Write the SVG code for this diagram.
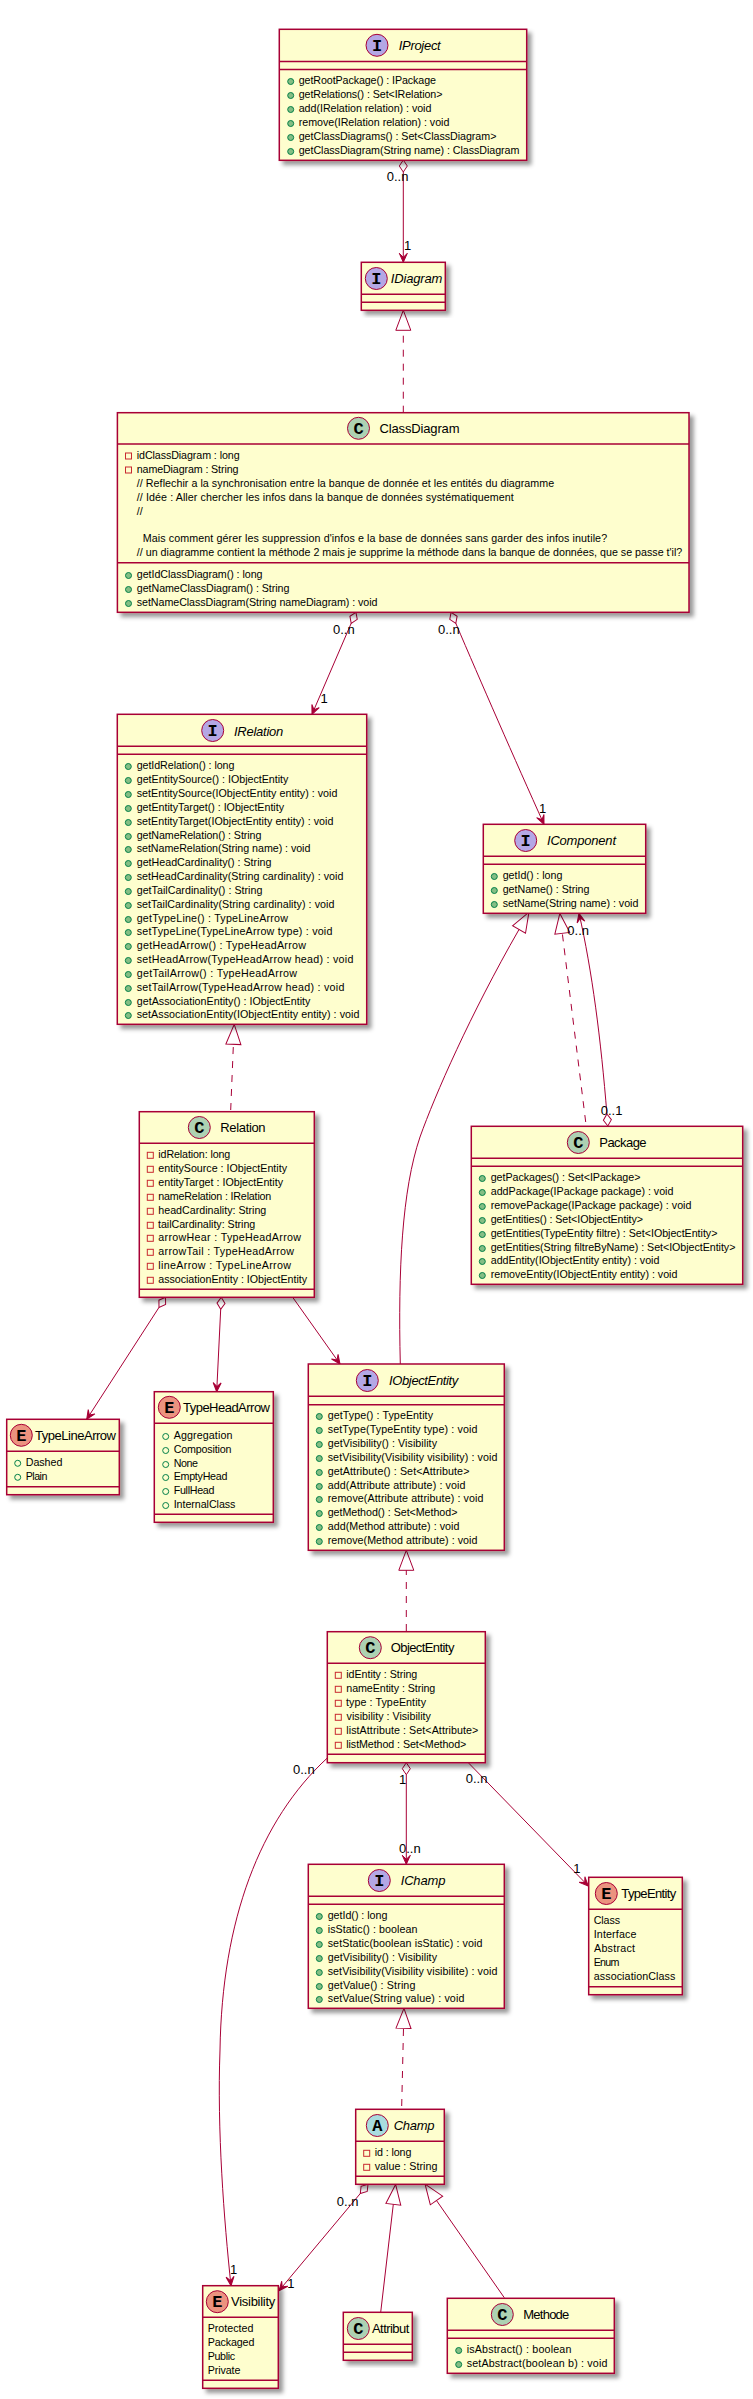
<svg xmlns="http://www.w3.org/2000/svg" width="753" height="2399" viewBox="0 0 753 2399">
<style>
text{font-family:"Liberation Sans",Arial,sans-serif;fill:#000}
.b{fill:#FEFECE;stroke:#A80036;stroke-width:1.5;filter:url(#sh)}
.s{stroke:#A80036;stroke-width:1.5;fill:none}
.m{font-size:10.7px}
.t{font-size:13px}
.i{font-size:13px;font-style:italic}
.l{font-size:13px}
.g{font-family:"Liberation Mono",monospace;font-weight:bold;font-size:17px;text-anchor:middle}
.c{stroke:#A80036;stroke-width:1;fill:#ADD1B2}
.ci{stroke:#A80036;stroke-width:1;fill:#B4A7E5}
.ce{stroke:#A80036;stroke-width:1;fill:#EB937F}
.ca{stroke:#A80036;stroke-width:1;fill:#A9DCDF}
.d{fill:#84BE84;stroke:#038048;stroke-width:1}
.e{fill:none;stroke:#038048;stroke-width:1}
.p{fill:none;stroke:#C82930;stroke-width:1}
.k{fill:none;stroke:#A80036;stroke-width:1}
.ag{marker-start:url(#dia);marker-end:url(#arr)}
.ar{marker-end:url(#arr)}
.re{marker-end:url(#tri)}
.da{stroke-dasharray:7,7}
</style>
<defs>
<filter id="sh" x="-10%" y="-10%" width="125%" height="125%">
<feGaussianBlur in="SourceAlpha" stdDeviation="2" result="b"/>
<feColorMatrix in="b" type="matrix" values="0 0 0 0 0 0 0 0 0 0 0 0 0 0 0 0 0 0 0.4 0" result="c"/>
<feOffset in="c" dx="4" dy="4" result="o"/>
<feMerge><feMergeNode in="o"/><feMergeNode in="SourceGraphic"/></feMerge>
</filter>
<marker id="arr" markerUnits="userSpaceOnUse" markerWidth="12" markerHeight="12" refX="0" refY="0" orient="auto" overflow="visible"><polygon points="0,0 -9,4 -5,0 -9,-4" fill="#A80036" stroke="#A80036" stroke-width="1"/></marker>
<marker id="dia" markerUnits="userSpaceOnUse" markerWidth="14" markerHeight="10" refX="0" refY="0" orient="auto" overflow="visible"><polygon points="0,0 -6,4 -12,0 -6,-4" fill="none" stroke="#A80036" stroke-width="1"/></marker>
<marker id="tri" markerUnits="userSpaceOnUse" markerWidth="22" markerHeight="16" refX="0" refY="0" orient="auto" overflow="visible"><polygon points="0,-7.5 20,0 0,7.5" fill="none" stroke="#A80036" stroke-width="1" stroke-dasharray="none"/></marker>
</defs>
<rect width="753" height="2399" fill="#fff"/>
<g id="connectors">
<path class="k ag" d="M403.3,172 L403.3,262.3"/>
<path class="k re da" d="M403.3,412.7 L403.3,330.3"/>
<path class="k ag" d="M351.2,623.3 L312,714.3"/>
<path class="k ag" d="M455.8,623.3 C480,680 515,760 544,824.3"/>
<path class="k re da" d="M230.7,1110 L233.4,1044.3"/>
<path class="k ag" d="M159,1307.4 L86.7,1419.3"/>
<path class="k ag" d="M220.7,1309.3 L216.7,1391.7"/>
<path class="k ar" d="M292.7,1297.3 L340,1364"/>
<path class="k re" d="M400.3,1364 C398,1270 402,1190 420,1137 C435,1095 470,1015 519,929.5"/>
<path class="k re da" d="M585.7,1122 L562.3,933.3"/>
<path class="k ag" d="M606.9,1114 C601,1040 592,970 579,913.3"/>
<path class="k re da" d="M406.3,1631 L406.3,1570.3"/>
<path class="k ag" d="M406.3,1774.7 L406.3,1864.3"/>
<path class="k ar" d="M468.3,1762.7 L588.3,1886"/>
<path class="k ar" d="M327.3,1758 C260,1820 222,1920 220,2050 C217,2130 224,2220 231,2285.7"/>
<path class="k re da" d="M401.7,2106 L403.5,2028.3"/>
<path class="k ag" d="M360.3,2193.5 L279,2290.7"/>
<path class="k re" d="M380.7,2312.3 L393.3,2204.3"/>
<path class="k re" d="M504.3,2297.7 L436.5,2200.5"/>
<text class="l" x="386.7" y="181">0..n</text><text class="l" x="404" y="250">1</text>
<text class="l" x="333" y="634">0..n</text><text class="l" x="320.5" y="703">1</text>
<text class="l" x="438" y="634">0..n</text><text class="l" x="539" y="813">1</text>
<text class="l" x="567.3" y="935">0..n</text><text class="l" x="600.7" y="1115">0..1</text>
<text class="l" x="399" y="1784">1</text><text class="l" x="399" y="1853">0..n</text>
<text class="l" x="465.7" y="1783">0..n</text><text class="l" x="573.3" y="1873">1</text>
<text class="l" x="293" y="1774">0..n</text><text class="l" x="230" y="2274">1</text>
<text class="l" x="336.7" y="2206">0..n</text><text class="l" x="287.3" y="2288">1</text>
</g>
<g id="IProject">
<rect class="b" x="279.3" y="29.3" width="247.4" height="131"/>
<path class="s" d="M279.3,61.5H526.7M279.3,69.5H526.7"/>
<circle class="ci" cx="377" cy="45.3" r="11"/><text class="g" x="377" y="50.5">I</text>
<text class="i" x="398.7" y="50" textLength="42">IProject</text>
<circle class="d" cx="290.7" cy="81.5" r="3"/><text class="m" x="298.7" y="84" textLength="137.3">getRootPackage() : IPackage</text>
<circle class="d" cx="290.7" cy="95.5" r="3"/><text class="m" x="298.7" y="98" textLength="143.7">getRelations() : Set&lt;IRelation&gt;</text>
<circle class="d" cx="290.7" cy="109.5" r="3"/><text class="m" x="298.7" y="112" textLength="132.7">add(IRelation relation) : void</text>
<circle class="d" cx="290.7" cy="123.5" r="3"/><text class="m" x="298.7" y="126" textLength="150.7">remove(IRelation relation) : void</text>
<circle class="d" cx="290.7" cy="137.5" r="3"/><text class="m" x="298.7" y="140" textLength="197.7">getClassDiagrams() : Set&lt;ClassDiagram&gt;</text>
<circle class="d" cx="290.7" cy="151.5" r="3"/><text class="m" x="298.7" y="154" textLength="220.7">getClassDiagram(String name) : ClassDiagram</text>
</g>
<g id="IDiagram">
<rect class="b" x="361.3" y="262.3" width="84" height="48"/>
<path class="s" d="M361.3,294.3H445.3M361.3,302.3H445.3"/>
<circle class="ci" cx="376.3" cy="278.5" r="11"/><text class="g" x="376.3" y="283.7">I</text>
<text class="i" x="390.7" y="283.3" textLength="51.7">IDiagram</text>
</g>
<g id="ClassDiagram">
<rect class="b" x="117.4" y="412.7" width="571.6" height="199.6"/>
<path class="s" d="M117.4,444H689M117.4,562.7H689"/>
<circle class="c" cx="358.5" cy="428.3" r="11"/><text class="g" x="358.5" y="433.5">C</text>
<text class="t" x="379.5" y="433" textLength="80">ClassDiagram</text>
<rect class="p" x="125.5" y="453" width="6" height="6"/><text class="m" x="136.8" y="459" textLength="102.8">idClassDiagram : long</text>
<rect class="p" x="125.5" y="467" width="6" height="6"/><text class="m" x="136.8" y="473" textLength="101.6">nameDiagram : String</text>
<text class="m" x="136.8" y="487" textLength="417.4">// Reflechir a la synchronisation entre la banque de donnée et les entités du diagramme</text>
<text class="m" x="136.8" y="501" textLength="377">// Idée : Aller chercher les infos dans la banque de données systématiquement</text>
<text class="m" x="136.8" y="515">//</text>
<text class="m" x="142.7" y="542" textLength="464.4">Mais comment gérer les suppression d'infos e la base de données sans garder des infos inutile?</text>
<text class="m" x="136.8" y="556" textLength="545.5">// un diagramme contient la méthode 2 mais je supprime la méthode dans la banque de données, que se passe t'il?</text>
<circle class="d" cx="128.5" cy="575.5" r="3"/><text class="m" x="136.8" y="578" textLength="125.7">getIdClassDiagram() : long</text>
<circle class="d" cx="128.5" cy="589.5" r="3"/><text class="m" x="136.8" y="592" textLength="152.6">getNameClassDiagram() : String</text>
<circle class="d" cx="128.5" cy="603.5" r="3"/><text class="m" x="136.8" y="606" textLength="240.7">setNameClassDiagram(String nameDiagram) : void</text>
</g>
<g id="IRelation">
<rect class="b" x="117.3" y="714.3" width="249.4" height="310"/>
<path class="s" d="M117.3,746.3H366.7M117.3,754.3H366.7"/>
<circle class="ci" cx="212.7" cy="730.5" r="11"/><text class="g" x="212.7" y="735.7">I</text>
<text class="i" x="234" y="735.5" textLength="49.3">IRelation</text>
<circle class="d" cx="128.3" cy="766.5" r="3"/><text class="m" x="136.7" y="769" textLength="97.7">getIdRelation() : long</text>
<circle class="d" cx="128.3" cy="780.5" r="3"/><text class="m" x="136.7" y="783" textLength="151.7">getEntitySource() : IObjectEntity</text>
<circle class="d" cx="128.3" cy="794.5" r="3"/><text class="m" x="136.7" y="797" textLength="200.7">setEntitySource(IObjectEntity entity) : void</text>
<circle class="d" cx="128.3" cy="808.5" r="3"/><text class="m" x="136.7" y="811" textLength="147.3">getEntityTarget() : IObjectEntity</text>
<circle class="d" cx="128.3" cy="822.5" r="3"/><text class="m" x="136.7" y="825" textLength="196.7">setEntityTarget(IObjectEntity entity) : void</text>
<circle class="d" cx="128.3" cy="836.5" r="3"/><text class="m" x="136.7" y="839" textLength="124.7">getNameRelation() : String</text>
<circle class="d" cx="128.3" cy="849.5" r="3"/><text class="m" x="136.7" y="852" textLength="173.7">setNameRelation(String name) : void</text>
<circle class="d" cx="128.3" cy="863.5" r="3"/><text class="m" x="136.7" y="866" textLength="134.7">getHeadCardinality() : String</text>
<circle class="d" cx="128.3" cy="877.5" r="3"/><text class="m" x="136.7" y="880" textLength="206.7">setHeadCardinality(String cardinality) : void</text>
<circle class="d" cx="128.3" cy="891.5" r="3"/><text class="m" x="136.7" y="894" textLength="125.7">getTailCardinality() : String</text>
<circle class="d" cx="128.3" cy="905.5" r="3"/><text class="m" x="136.7" y="908" textLength="197.7">setTailCardinality(String cardinality) : void</text>
<circle class="d" cx="128.3" cy="919.5" r="3"/><text class="m" x="136.7" y="922" textLength="151.3">getTypeLine() : TypeLineArrow</text>
<circle class="d" cx="128.3" cy="932.5" r="3"/><text class="m" x="136.7" y="935" textLength="195.7">setTypeLine(TypeLineArrow type) : void</text>
<circle class="d" cx="128.3" cy="946.5" r="3"/><text class="m" x="136.7" y="949" textLength="169.3">getHeadArrow() : TypeHeadArrow</text>
<circle class="d" cx="128.3" cy="960.5" r="3"/><text class="m" x="136.7" y="963" textLength="216.7">setHeadArrow(TypeHeadArrow head) : void</text>
<circle class="d" cx="128.3" cy="974.5" r="3"/><text class="m" x="136.7" y="977" textLength="160.3">getTailArrow() : TypeHeadArrow</text>
<circle class="d" cx="128.3" cy="988.5" r="3"/><text class="m" x="136.7" y="991" textLength="207.7">setTailArrow(TypeHeadArrow head) : void</text>
<circle class="d" cx="128.3" cy="1002.5" r="3"/><text class="m" x="136.7" y="1005" textLength="173.7">getAssociationEntity() : IObjectEntity</text>
<circle class="d" cx="128.3" cy="1015.5" r="3"/><text class="m" x="136.7" y="1018" textLength="222.7">setAssociationEntity(IObjectEntity entity) : void</text>
</g>
<g id="IComponent">
<rect class="b" x="483.3" y="824.3" width="162.4" height="89"/>
<path class="s" d="M483.3,856.3H645.7M483.3,864.3H645.7"/>
<circle class="ci" cx="525.7" cy="840.5" r="11"/><text class="g" x="525.7" y="845.7">I</text>
<text class="i" x="547" y="845.3" textLength="69">IComponent</text>
<circle class="d" cx="494.3" cy="876.5" r="3"/><text class="m" x="502.7" y="879" textLength="59.7">getId() : long</text>
<circle class="d" cx="494.3" cy="890.5" r="3"/><text class="m" x="502.7" y="893" textLength="86.7">getName() : String</text>
<circle class="d" cx="494.3" cy="904.5" r="3"/><text class="m" x="502.7" y="907" textLength="135.7">setName(String name) : void</text>
</g>
<g id="Package">
<rect class="b" x="471.3" y="1126.3" width="271.4" height="158"/>
<path class="s" d="M471.3,1158.3H742.7M471.3,1166.3H742.7"/>
<circle class="c" cx="578.3" cy="1142.5" r="11"/><text class="g" x="578.3" y="1147.7">C</text>
<text class="t" x="599.3" y="1147.3" textLength="47.3">Package</text>
<circle class="d" cx="482.3" cy="1178.5" r="3"/><text class="m" x="490.7" y="1181" textLength="149.7">getPackages() : Set&lt;IPackage&gt;</text>
<circle class="d" cx="482.3" cy="1192.5" r="3"/><text class="m" x="490.7" y="1195" textLength="182.7">addPackage(IPackage package) : void</text>
<circle class="d" cx="482.3" cy="1206.5" r="3"/><text class="m" x="490.7" y="1209" textLength="200.7">removePackage(IPackage package) : void</text>
<circle class="d" cx="482.3" cy="1220.5" r="3"/><text class="m" x="490.7" y="1223" textLength="152.3">getEntities() : Set&lt;IObjectEntity&gt;</text>
<circle class="d" cx="482.3" cy="1234.5" r="3"/><text class="m" x="490.7" y="1237" textLength="226.7">getEntities(TypeEntity filtre) : Set&lt;IObjectEntity&gt;</text>
<circle class="d" cx="482.3" cy="1248.5" r="3"/><text class="m" x="490.7" y="1251" textLength="244.7">getEntities(String filtreByName) : Set&lt;IObjectEntity&gt;</text>
<circle class="d" cx="482.3" cy="1261.5" r="3"/><text class="m" x="490.7" y="1264" textLength="168.7">addEntity(IObjectEntity entity) : void</text>
<circle class="d" cx="482.3" cy="1275.5" r="3"/><text class="m" x="490.7" y="1278" textLength="186.7">removeEntity(IObjectEntity entity) : void</text>
</g>
<g id="Relation">
<rect class="b" x="139.3" y="1111.7" width="175" height="185.6"/>
<path class="s" d="M139.3,1143.3H314.3M139.3,1289.3H314.3"/>
<circle class="c" cx="199.3" cy="1127.5" r="11"/><text class="g" x="199.3" y="1132.7">C</text>
<text class="t" x="220.3" y="1132" textLength="45.3">Relation</text>
<rect class="p" x="147.3" y="1152.3" width="6" height="6"/><text class="m" x="158.3" y="1158" textLength="72">idRelation: long</text>
<rect class="p" x="147.3" y="1166.3" width="6" height="6"/><text class="m" x="158.3" y="1172" textLength="128.7">entitySource : IObjectEntity</text>
<rect class="p" x="147.3" y="1180.3" width="6" height="6"/><text class="m" x="158.3" y="1186" textLength="124.7">entityTarget : IObjectEntity</text>
<rect class="p" x="147.3" y="1194.3" width="6" height="6"/><text class="m" x="158.3" y="1200" textLength="113">nameRelation : IRelation</text>
<rect class="p" x="147.3" y="1208.3" width="6" height="6"/><text class="m" x="158.3" y="1214" textLength="108">headCardinality: String</text>
<rect class="p" x="147.3" y="1222.3" width="6" height="6"/><text class="m" x="158" y="1228" textLength="97.3">tailCardinality: String</text>
<rect class="p" x="147.3" y="1235.3" width="6" height="6"/><text class="m" x="158.3" y="1241" textLength="142.7">arrowHear : TypeHeadArrow</text>
<rect class="p" x="147.3" y="1249.3" width="6" height="6"/><text class="m" x="158.3" y="1255" textLength="135.7">arrowTail : TypeHeadArrow</text>
<rect class="p" x="147.3" y="1263.3" width="6" height="6"/><text class="m" x="158.3" y="1269" textLength="132.7">lineArrow : TypeLineArrow</text>
<rect class="p" x="147.3" y="1277.3" width="6" height="6"/><text class="m" x="158.3" y="1283" textLength="148.7">associationEntity : IObjectEntity</text>
</g>
<g id="TypeLineArrow">
<rect class="b" x="6.7" y="1419.3" width="112.6" height="75.4"/>
<path class="s" d="M6.7,1451.3H119.3M6.7,1486.7H119.3"/>
<circle class="ce" cx="21.3" cy="1435.3" r="11"/><text class="g" x="21.3" y="1440.5">E</text>
<text class="t" x="35" y="1440" textLength="81">TypeLineArrow</text>
<circle class="e" cx="17.7" cy="1463.3" r="3"/><text class="m" x="25.7" y="1466" textLength="36.7">Dashed</text>
<circle class="e" cx="17.7" cy="1477.3" r="3"/><text class="m" x="25.7" y="1480" textLength="21.7">Plain</text>
</g>
<g id="TypeHeadArrow">
<rect class="b" x="154.3" y="1391.7" width="119" height="130.6"/>
<path class="s" d="M154.3,1423.3H273.3M154.3,1514.3H273.3"/>
<circle class="ce" cx="169.3" cy="1407.3" r="11"/><text class="g" x="169.3" y="1412.5">E</text>
<text class="t" x="183" y="1412" textLength="87">TypeHeadArrow</text>
<circle class="e" cx="165.7" cy="1436.5" r="3"/><text class="m" x="173.7" y="1439" textLength="58.7">Aggregation</text>
<circle class="e" cx="165.7" cy="1450.5" r="3"/><text class="m" x="173.7" y="1453" textLength="57.7">Composition</text>
<circle class="e" cx="165.7" cy="1464.5" r="3"/><text class="m" x="173.7" y="1467" textLength="24.3">None</text>
<circle class="e" cx="165.7" cy="1477.5" r="3"/><text class="m" x="173.7" y="1480" textLength="53.7">EmptyHead</text>
<circle class="e" cx="165.7" cy="1491.5" r="3"/><text class="m" x="173.7" y="1494" textLength="40.7">FullHead</text>
<circle class="e" cx="165.7" cy="1505.5" r="3"/><text class="m" x="173.7" y="1508" textLength="61.7">InternalClass</text>
</g>
<g id="IObjectEntity">
<rect class="b" x="308.3" y="1364" width="196" height="186.3"/>
<path class="s" d="M308.3,1396.3H504.3M308.3,1404.7H504.3"/>
<circle class="ci" cx="367.3" cy="1380.5" r="11"/><text class="g" x="367.3" y="1385.7">I</text>
<text class="i" x="389" y="1385.3" textLength="69.3">IObjectEntity</text>
<circle class="d" cx="319.3" cy="1416.5" r="3"/><text class="m" x="327.7" y="1419" textLength="105.3">getType() : TypeEntity</text>
<circle class="d" cx="319.3" cy="1430.5" r="3"/><text class="m" x="327.7" y="1433" textLength="149.7">setType(TypeEntity type) : void</text>
<circle class="d" cx="319.3" cy="1444.5" r="3"/><text class="m" x="327.7" y="1447" textLength="109.3">getVisibility() : Visibility</text>
<circle class="d" cx="319.3" cy="1458.5" r="3"/><text class="m" x="327.7" y="1461" textLength="169.7">setVisibility(Visibility visibility) : void</text>
<circle class="d" cx="319.3" cy="1472.5" r="3"/><text class="m" x="327.7" y="1475" textLength="141.7">getAttribute() : Set&lt;Attribute&gt;</text>
<circle class="d" cx="319.3" cy="1486.5" r="3"/><text class="m" x="327.7" y="1489" textLength="137.7">add(Attribute attribute) : void</text>
<circle class="d" cx="319.3" cy="1499.5" r="3"/><text class="m" x="327.7" y="1502" textLength="155.7">remove(Attribute attribute) : void</text>
<circle class="d" cx="319.3" cy="1513.5" r="3"/><text class="m" x="327.7" y="1516" textLength="129.7">getMethod() : Set&lt;Method&gt;</text>
<circle class="d" cx="319.3" cy="1527.5" r="3"/><text class="m" x="327.7" y="1530" textLength="131.7">add(Method attribute) : void</text>
<circle class="d" cx="319.3" cy="1541.5" r="3"/><text class="m" x="327.7" y="1544" textLength="149.7">remove(Method attribute) : void</text>
</g>
<g id="ObjectEntity">
<rect class="b" x="327.3" y="1631.7" width="158" height="131"/>
<path class="s" d="M327.3,1663.3H485.3M327.3,1754.3H485.3"/>
<circle class="c" cx="370.3" cy="1647.7" r="11"/><text class="g" x="370.3" y="1652.9">C</text>
<text class="t" x="390.7" y="1652.3" textLength="63.7">ObjectEntity</text>
<rect class="p" x="335.3" y="1672.3" width="6" height="6"/><text class="m" x="346.3" y="1678" textLength="71">idEntity : String</text>
<rect class="p" x="335.3" y="1686.3" width="6" height="6"/><text class="m" x="346.3" y="1692" textLength="89">nameEntity : String</text>
<rect class="p" x="335.3" y="1700.3" width="6" height="6"/><text class="m" x="346" y="1706" textLength="80">type : TypeEntity</text>
<rect class="p" x="335.3" y="1714.3" width="6" height="6"/><text class="m" x="346.6" y="1720" textLength="84.3">visibility : Visibility</text>
<rect class="p" x="335.3" y="1728.3" width="6" height="6"/><text class="m" x="346.3" y="1734" textLength="132">listAttribute : Set&lt;Attribute&gt;</text>
<rect class="p" x="335.3" y="1742.3" width="6" height="6"/><text class="m" x="346.3" y="1748" textLength="120">listMethod : Set&lt;Method&gt;</text>
</g>
<g id="IChamp">
<rect class="b" x="308.3" y="1864.3" width="196" height="144"/>
<path class="s" d="M308.3,1896.3H504.3M308.3,1904.3H504.3"/>
<circle class="ci" cx="379.3" cy="1880.5" r="11"/><text class="g" x="379.3" y="1885.7">I</text>
<text class="i" x="400.7" y="1885.3" textLength="44.7">IChamp</text>
<circle class="d" cx="319.3" cy="1916.5" r="3"/><text class="m" x="327.7" y="1919" textLength="59.7">getId() : long</text>
<circle class="d" cx="319.3" cy="1930.5" r="3"/><text class="m" x="327.7" y="1933" textLength="89.7">isStatic() : boolean</text>
<circle class="d" cx="319.3" cy="1944.5" r="3"/><text class="m" x="327.7" y="1947" textLength="154.7">setStatic(boolean isStatic) : void</text>
<circle class="d" cx="319.3" cy="1958.5" r="3"/><text class="m" x="327.7" y="1961" textLength="109.3">getVisibility() : Visibility</text>
<circle class="d" cx="319.3" cy="1972.5" r="3"/><text class="m" x="327.7" y="1975" textLength="169.7">setVisibility(Visibility visibilite) : void</text>
<circle class="d" cx="319.3" cy="1986.5" r="3"/><text class="m" x="327.7" y="1989" textLength="87.7">getValue() : String</text>
<circle class="d" cx="319.3" cy="1999.5" r="3"/><text class="m" x="327.7" y="2002" textLength="136.7">setValue(String value) : void</text>
</g>
<g id="TypeEntity">
<rect class="b" x="588.7" y="1877.3" width="93.6" height="117.4"/>
<path class="s" d="M588.7,1909.3H682.3M588.7,1986.7H682.3"/>
<circle class="ce" cx="606.3" cy="1893.5" r="11"/><text class="g" x="606.3" y="1898.7">E</text>
<text class="t" x="621.3" y="1898.3" textLength="55">TypeEntity</text>
<text class="m" x="593.7" y="1924" textLength="26.3">Class</text>
<text class="m" x="593.7" y="1938" textLength="42.7">Interface</text>
<text class="m" x="594" y="1952" textLength="41">Abstract</text>
<text class="m" x="593.7" y="1966" textLength="25.7">Enum</text>
<text class="m" x="593.7" y="1980" textLength="81.7">associationClass</text>
</g>
<g id="Champ">
<rect class="b" x="355.7" y="2109.3" width="88.6" height="75"/>
<path class="s" d="M355.7,2141.3H444.3M355.7,2176.3H444.3"/>
<circle class="ca" cx="377.3" cy="2125.5" r="11"/><text class="g" x="377.3" y="2130.7">A</text>
<text class="i" x="393.7" y="2130.3" textLength="40.7">Champ</text>
<rect class="p" x="363.7" y="2150.3" width="6" height="6"/><text class="m" x="374.7" y="2156" textLength="36.7">id : long</text>
<rect class="p" x="363.7" y="2164.3" width="6" height="6"/><text class="m" x="374.7" y="2170" textLength="62.7">value : String</text>
</g>
<g id="Visibility">
<rect class="b" x="202.7" y="2285.7" width="75.6" height="102.6"/>
<path class="s" d="M202.7,2317.3H278.3M202.7,2380.3H278.3"/>
<circle class="ce" cx="217.3" cy="2301.7" r="11"/><text class="g" x="217.3" y="2306.9">E</text>
<text class="t" x="231" y="2306.3" textLength="44.3">Visibility</text>
<text class="m" x="207.7" y="2332" textLength="45.7">Protected</text>
<text class="m" x="207.7" y="2346" textLength="46.7">Packaged</text>
<text class="m" x="207.7" y="2360" textLength="27.3">Public</text>
<text class="m" x="207.7" y="2374" textLength="32.7">Private</text>
</g>
<g id="Attribut">
<rect class="b" x="343.3" y="2312.3" width="69" height="48"/>
<path class="s" d="M343.3,2344.3H412.3M343.3,2352.3H412.3"/>
<circle class="c" cx="358.3" cy="2328.5" r="11"/><text class="g" x="358.3" y="2333.7">C</text>
<text class="t" x="372" y="2333.3" textLength="37.3">Attribut</text>
</g>
<g id="Methode">
<rect class="b" x="447.3" y="2298.3" width="167" height="75"/>
<path class="s" d="M447.3,2330.3H614.3M447.3,2338.3H614.3"/>
<circle class="c" cx="502.3" cy="2314.5" r="11"/><text class="g" x="502.3" y="2319.7">C</text>
<text class="t" x="523.3" y="2319.3" textLength="46">Methode</text>
<circle class="d" cx="458.7" cy="2350.5" r="3"/><text class="m" x="466.7" y="2353" textLength="104.7">isAbstract() : boolean</text>
<circle class="d" cx="458.7" cy="2364.5" r="3"/><text class="m" x="466.7" y="2367" textLength="140.7">setAbstract(boolean b) : void</text>
</g>
</svg>
